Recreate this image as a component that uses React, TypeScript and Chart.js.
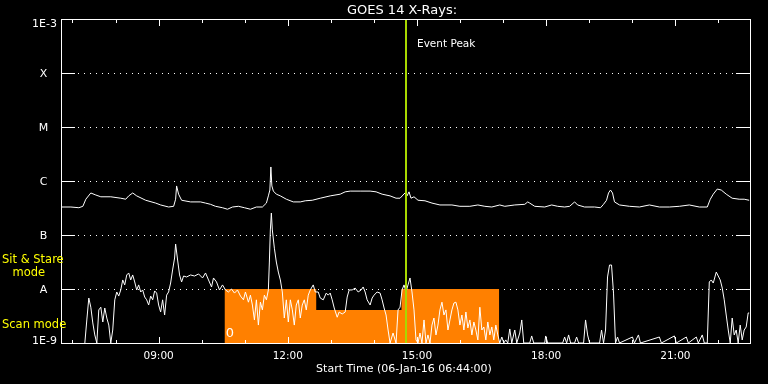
import { useEffect, useRef } from 'react';
import { Chart, registerables } from 'chart.js';

Chart.register(...registerables);

// ---- axis definitions ----
const startHour = 6 + 44 / 60; // 06:44
const spanHours = 16;
const xMinorHours = [7, 8, 9, 10, 11, 12, 13, 14, 15, 16, 17, 18, 19, 20, 21, 22];
const xTickHours = [9, 12, 15, 18, 21];
const xTickLabels = ['09:00', '12:00', '15:00', '18:00', '21:00'];
const yTickValues = [1e-9, 1e-8, 1e-7, 1e-6, 1e-5, 1e-4, 1e-3];
const yTickLabels = ['1E-9', 'A', 'B', 'C', 'M', 'X', '1E-3'];
const yGridValues = [1e-8, 1e-7, 1e-6, 1e-5, 1e-4];

const titleText = 'GOES 14 X-Rays:';
const xTitleText = 'Start Time (06-Jan-16 06:44:00)';
const eventLabel = 'Event Peak';
const eventHour = 14.745;

// ---- instrument mode (orange) ----
const modeTimes = [10.53, 12.66, 12.66, 14.64, 14.64, 16.91];
const modeLevels = [1e-8, 1e-8, 4.1e-9, 4.1e-9, 1e-8, 1e-8];
const modeLabel = '0';

// ---- long channel (upper curve) ----
const upperTimes = [
  6.754, 6.963, 7.148, 7.241, 7.31, 7.426, 7.542, 7.658, 7.889, 8.121,
  8.237, 8.306, 8.399, 8.491, 8.7, 8.932, 9.047, 9.233, 9.349, 9.395,
  9.418, 9.464, 9.534, 9.742, 9.974, 10.09, 10.206, 10.321, 10.484, 10.599,
  10.715, 10.854, 10.993, 11.132, 11.271, 11.41, 11.503, 11.549, 11.584, 11.607,
  11.63, 11.665, 11.734, 11.827, 11.966, 12.128, 12.29, 12.406, 12.568, 12.754,
  12.985, 13.217, 13.333, 13.449, 13.68, 13.912, 14.051, 14.19, 14.375, 14.514,
  14.607, 14.676, 14.722, 14.769, 14.815, 14.861, 14.931, 15.024, 15.186, 15.348,
  15.533, 15.811, 15.997, 16.228, 16.414, 16.576, 16.738, 16.923, 17.039, 17.271,
  17.503, 17.572, 17.618, 17.734, 17.966, 18.128, 18.267, 18.429, 18.545, 18.661,
  18.73, 18.892, 19.124, 19.263, 19.332, 19.402, 19.448, 19.494, 19.541, 19.587,
  19.703, 19.934, 20.166, 20.398, 20.629, 20.861, 21.093, 21.324, 21.556, 21.741,
  21.811, 21.88, 21.973, 22.066, 22.182, 22.319, 22.483, 22.599, 22.714,
];
const upperFlux = [
  3.3e-7, 3.3e-7, 3.2e-7, 3.4e-7, 4.6e-7, 6.0e-7, 5.5e-7, 5.1e-7, 5.1e-7, 4.8e-7,
  4.6e-7, 5.3e-7, 6.0e-7, 5.3e-7, 4.4e-7, 3.9e-7, 3.6e-7, 3.3e-7, 3.4e-7, 4.6e-7,
  8.1e-7, 5.7e-7, 4.4e-7, 4.1e-7, 4.1e-7, 3.9e-7, 3.7e-7, 3.4e-7, 3.2e-7, 3.0e-7,
  3.3e-7, 3.4e-7, 3.2e-7, 3.0e-7, 3.3e-7, 3.3e-7, 3.9e-7, 5.3e-7, 6.8e-7, 1.82e-6,
  8.1e-7, 6.5e-7, 5.7e-7, 5.3e-7, 4.6e-7, 4.1e-7, 4.1e-7, 4.3e-7, 4.4e-7, 4.8e-7,
  5.3e-7, 5.7e-7, 6.3e-7, 6.5e-7, 6.5e-7, 6.5e-7, 6.3e-7, 5.7e-7, 5.3e-7, 4.8e-7,
  4.8e-7, 5.5e-7, 6.0e-7, 5.3e-7, 6.3e-7, 4.8e-7, 5.1e-7, 4.4e-7, 4.3e-7, 3.9e-7,
  3.6e-7, 3.6e-7, 3.4e-7, 3.4e-7, 3.6e-7, 3.4e-7, 3.3e-7, 3.6e-7, 3.4e-7, 3.6e-7,
  3.7e-7, 4.1e-7, 3.9e-7, 3.4e-7, 3.3e-7, 3.6e-7, 3.4e-7, 3.3e-7, 3.4e-7, 4.1e-7,
  3.6e-7, 3.3e-7, 3.3e-7, 3.2e-7, 3.7e-7, 4.4e-7, 6.0e-7, 6.8e-7, 6.0e-7, 4.1e-7,
  3.6e-7, 3.4e-7, 3.3e-7, 3.6e-7, 3.3e-7, 3.3e-7, 3.4e-7, 3.6e-7, 3.3e-7, 3.3e-7,
  4.6e-7, 5.7e-7, 7.1e-7, 6.8e-7, 5.7e-7, 4.8e-7, 4.6e-7, 4.6e-7, 4.4e-7,
];

// ---- short channel (lower curve) ----
const lowerTimes = [
  7.287, 7.333, 7.379, 7.426, 7.472, 7.518, 7.565, 7.611, 7.658, 7.704,
  7.75, 7.797, 7.843, 7.889, 7.935, 7.982, 8.028, 8.074, 8.121, 8.167,
  8.213, 8.26, 8.306, 8.352, 8.398, 8.445, 8.491, 8.537, 8.584, 8.63,
  8.677, 8.723, 8.769, 8.816, 8.862, 8.908, 8.955, 9.001, 9.047, 9.093,
  9.14, 9.186, 9.232, 9.279, 9.325, 9.371, 9.395, 9.441, 9.487, 9.534,
  9.58, 9.65, 9.742, 9.835, 9.928, 10.02, 10.09, 10.159, 10.229, 10.275,
  10.345, 10.414, 10.484,
  10.553, 10.622, 10.692, 10.762, 10.831, 10.901, 10.97, 11.016, 11.086, 11.132,
  11.178, 11.225, 11.271, 11.317, 11.364, 11.41, 11.456, 11.503, 11.549, 11.572,
  11.595, 11.618, 11.641, 11.688, 11.734, 11.78, 11.827, 11.873, 11.919, 11.966,
  12.012, 12.059, 12.105, 12.151, 12.197, 12.244, 12.29,
  12.336, 12.383, 12.429, 12.475, 12.522, 12.591, 12.638, 12.707, 12.754, 12.823,
  12.893, 12.939, 12.985, 13.031, 13.078, 13.147, 13.193, 13.263, 13.333, 13.379,
  13.425, 13.495, 13.564, 13.634, 13.703, 13.75, 13.796, 13.842, 13.912, 13.958,
  14.004, 14.074, 14.143, 14.19, 14.236, 14.282, 14.329, 14.375, 14.444, 14.514,
  14.56, 14.607, 14.653, 14.699,
  14.745, 14.792, 14.838, 14.884, 14.931, 14.977, 15.024, 15.07, 15.116, 15.163,
  15.209, 15.255, 15.302, 15.348, 15.394, 15.441, 15.487, 15.533, 15.58, 15.626,
  15.672, 15.719, 15.765, 15.811, 15.858, 15.904, 15.95, 15.997, 16.043, 16.089,
  16.136, 16.182, 16.228, 16.275, 16.321, 16.367, 16.414, 16.46, 16.506, 16.553,
  16.599, 16.645, 16.692, 16.738, 16.784, 16.831, 16.877, 16.923,
  16.97, 17.016, 17.062, 17.108, 17.155, 17.201, 17.271, 17.317, 17.387, 17.433,
  17.479, 17.618, 17.664, 17.711, 17.966, 17.989, 18.035, 18.383, 18.429, 18.475,
  18.521, 18.568, 18.66, 18.707, 18.753, 18.869, 18.915, 18.962, 19.008, 19.24,
  19.286, 19.332, 19.379, 19.425, 19.471, 19.518, 19.564, 19.61, 19.657, 19.703,
  20.004, 20.05, 20.143, 20.189, 20.629, 20.676, 20.977, 21.023, 21.255, 21.301,
  21.486, 21.533, 21.625, 21.672, 21.741, 21.788, 21.834, 21.88, 21.95, 21.996,
  22.042, 22.089, 22.135, 22.181, 22.228, 22.274, 22.32, 22.367, 22.413, 22.459,
  22.506, 22.552, 22.598, 22.645, 22.691, 22.714,
];
const lowerFlux = [
  1e-9, 2.67e-9, 6.8e-9, 4.6e-9, 2.35e-9, 1.41e-9, 1e-9, 4.1e-9, 4.6e-9, 2.45e-9,
  4.45e-9, 2.9e-9, 2.15e-9, 1e-9, 1.74e-9, 6.3e-9, 8.8e-9, 7.4e-9, 9.6e-9, 1.47e-8,
  1.19e-8, 1.82e-8, 1.98e-8, 1.47e-8, 1.82e-8, 1.35e-8, 9.6e-9, 1.19e-8, 8.8e-9, 9.6e-9,
  7.1e-9, 6.3e-9, 5.05e-9, 7.4e-9, 6.3e-9, 9.2e-9, 8.4e-9, 5.05e-9, 3.75e-9, 6.3e-9,
  3.3e-9, 7.7e-9, 8.8e-9, 1.29e-8, 2.25e-8, 3.75e-8, 6.8e-8, 3.44e-8, 1.82e-8, 1.35e-8,
  1.74e-8, 1.67e-8, 1.82e-8, 1.74e-8, 1.9e-8, 1.6e-8, 1.98e-8, 1.47e-8, 1.09e-8, 1.6e-8,
  1.35e-8, 9.6e-9, 1.19e-8,
  9.6e-9, 8.8e-9, 1.0e-8, 8.4e-9, 9.6e-9, 7.4e-9, 6.3e-9, 8.8e-9, 5.7e-9, 7.7e-9,
  5.05e-9, 2.67e-9, 6.3e-9, 2.15e-9, 5.7e-9, 4.1e-9, 7.7e-9, 6.3e-9, 9.6e-9, 3.16e-8,
  1.24e-7, 2.55e-7, 1.24e-7, 5.7e-8, 3.16e-8, 2.06e-8, 1.47e-8, 8.8e-9, 2.9e-9, 6.3e-9,
  2.45e-9, 6.3e-9, 4.1e-9, 2.15e-9, 5.05e-9, 6.3e-9, 2.9e-9,
  5.05e-9, 6.3e-9, 4.1e-9, 7.7e-9, 9.6e-9, 1.19e-8, 8.8e-9, 8.8e-9, 6.8e-9, 6.3e-9,
  8.4e-9, 7.7e-9, 8.4e-9, 6.3e-9, 4.45e-9, 3.0e-9, 3.75e-9, 3.44e-9, 3.75e-9, 7.1e-9,
  9.6e-9, 9.6e-9, 1.04e-8, 8.8e-9, 9.6e-9, 1.09e-8, 8.8e-9, 6.3e-9, 5.05e-9, 6.8e-9,
  7.7e-9, 8.8e-9, 8.4e-9, 6.3e-9, 4.45e-9, 3.3e-9, 1.74e-9, 1e-9, 1.53e-9, 1e-9,
  4.1e-9, 4.6e-9, 9.6e-9, 1.19e-8,
  8.8e-9, 1.19e-8, 1.6e-8, 8.8e-9, 4.1e-9, 1.14e-9, 1e-9, 1.53e-9, 1e-9, 2.67e-9,
  1e-9, 1.41e-9, 1e-9, 2.15e-9, 2.9e-9, 1.41e-9, 2.15e-9, 4.1e-9, 5.7e-9, 3.3e-9,
  4.1e-9, 1.74e-9, 2.67e-9, 4.1e-9, 5.5e-9, 5.7e-9, 4.1e-9, 2.15e-9, 3.3e-9, 1.74e-9,
  3.75e-9, 1.9e-9, 2.67e-9, 1.41e-9, 2.45e-9, 1.74e-9, 1.14e-9, 4.6e-9, 1.74e-9, 1.98e-9,
  1.14e-9, 2.45e-9, 1.41e-9, 1.98e-9, 1.14e-9, 2.15e-9, 1.41e-9, 1e-9,
  1.29e-9, 1e-9, 1.14e-9, 1e-9, 1.82e-9, 1e-9, 1.74e-9, 1e-9, 1.53e-9, 2.67e-9,
  1e-9, 1e-9, 1.35e-9, 1e-9, 1e-9, 1.35e-9, 1e-9, 1e-9, 1.29e-9, 1e-9,
  1.41e-9, 1e-9, 1e-9, 1.29e-9, 1e-9, 1e-9, 2.67e-9, 1.41e-9, 1e-9, 1e-9,
  1.74e-9, 1e-9, 1.74e-9, 1.67e-8, 2.78e-8, 2.78e-8, 8.4e-9, 1e-9, 1.29e-9, 1e-9,
  1.29e-9, 1e-9, 1.41e-9, 1e-9, 1.29e-9, 1e-9, 1.35e-9, 1e-9, 1.29e-9, 1e-9,
  1.29e-9, 1e-9, 1.41e-9, 1e-9, 1e-9, 1.35e-8, 1.47e-8, 1.29e-8, 2.06e-8, 1.74e-8,
  1.47e-8, 1.04e-8, 6.3e-9, 3.3e-9, 1.74e-9, 1e-9, 2.9e-9, 1.41e-9, 1.74e-9, 1e-9,
  2.15e-9, 1.14e-9, 1.74e-9, 1.98e-9, 3.6e-9, 3.6e-9,
];

const WHITE = '#ffffff';
const ORANGE = '#ff8000';
const GREEN = '#a8d800';
const YELLOW = '#ffff00';
const FONT = '"DejaVu Sans", sans-serif';

const toPoints = (xs: number[], ys: number[]) => xs.map((x, i) => ({ x, y: ys[i] }));

const goesPlugin = {
  id: 'goesDecor',
  beforeDraw(chart: any) {
    const { ctx, width, height } = chart;
    ctx.save();
    ctx.fillStyle = '#000';
    ctx.fillRect(0, 0, width, height);
    ctx.restore();
  },
  beforeDatasetsDraw(chart: any) {
    const { ctx, chartArea, scales } = chart;
    const { left, right } = chartArea;
    const y = scales.y;
    ctx.save();
    ctx.fillStyle = WHITE;
    const L = Math.round(left);
    const R = Math.round(right);
    for (const v of yGridValues) {
      const py = Math.round(y.getPixelForValue(v));
      for (let px = L + 17; px < R - 15; px += 6) ctx.fillRect(px, py, 1, 1);
    }
    ctx.restore();
  },
  afterDatasetsDraw(chart: any) {
    const { ctx, chartArea, scales } = chart;
    const { left, right, top, bottom } = chartArea;
    const x = scales.x;
    const y = scales.y;
    const L = Math.round(left);
    const R = Math.round(right);
    const T = Math.round(top);
    const B = Math.round(bottom);
    ctx.save();
    ctx.fillStyle = WHITE;
    // frame
    ctx.fillRect(L, T, R - L + 1, 1);
    ctx.fillRect(L, B, R - L + 1, 1);
    ctx.fillRect(L, T, 1, B - T + 1);
    ctx.fillRect(R, T, 1, B - T + 1);
    // y ticks (left and right)
    for (const v of yGridValues) {
      const py = Math.round(y.getPixelForValue(v));
      ctx.fillRect(L, py, 14, 1);
      ctx.fillRect(R - 14, py, 14, 1);
    }
    // x ticks (top and bottom)
    for (const h of xMinorHours) {
      const px = Math.round(x.getPixelForValue(h));
      const len = xTickHours.includes(h) ? 7 : 4;
      ctx.fillRect(px, T, 1, len);
      ctx.fillRect(px, B - len + 1, 1, len);
    }

    // texts
    ctx.textBaseline = 'alphabetic';
    ctx.font = `13px ${FONT}`;
    ctx.textAlign = 'center';
    ctx.fillText(titleText, 402, 14);

    ctx.font = `11px ${FONT}`;
    yTickValues.forEach((v, i) => {
      const lab = yTickLabels[i];
      const py = y.getPixelForValue(v);
      let base = py + 4;
      if (i === yTickValues.length - 1) base = T + 8;
      if (i === 0) base = B + 0.5;
      if (lab.length === 1) {
        ctx.textAlign = 'center';
        ctx.fillText(lab, L - 17.5, base);
      } else {
        ctx.textAlign = 'right';
        ctx.fillText(lab, L - 4, base);
      }
    });

    ctx.font = `10.5px ${FONT}`;
    ctx.textAlign = 'center';
    xTickHours.forEach((h, i) => {
      ctx.fillText(xTickLabels[i], x.getPixelForValue(h), 359);
    });
    ctx.font = `11px ${FONT}`;
    ctx.fillText(xTitleText, 404, 371.5);

    ctx.font = `10.5px ${FONT}`;
    ctx.textAlign = 'left';
    ctx.fillText(eventLabel, x.getPixelForValue(eventHour) + 11, 46.7);

    ctx.font = `13px ${FONT}`;
    ctx.textAlign = 'center';
    ctx.fillText(modeLabel, x.getPixelForValue(modeTimes[0]) + 5.5, 337);

    ctx.fillStyle = YELLOW;
    ctx.font = `11.5px ${FONT}`;
    ctx.textAlign = 'left';
    ctx.fillText('Sit & Stare', 2, 263.3);
    ctx.fillText('mode', 12.5, 275.5);
    ctx.fillText('Scan mode', 2, 328.3);
    ctx.restore();
  },
};

export default function App() {
  const ref = useRef<HTMLCanvasElement | null>(null);

  useEffect(() => {
    document.body.style.margin = '0';
    document.body.style.background = '#000';
    if (!ref.current) return;
    const chart = new Chart(ref.current, {
      type: 'line',
      data: {
        datasets: [
          {
            label: 'Event Peak',
            data: [
              { x: eventHour, y: 1e-9 },
              { x: eventHour, y: 1e-3 },
            ],
            borderColor: GREEN,
            borderWidth: 2,
            pointRadius: 0,
            fill: false,
            order: 0,
          },
          {
            label: 'Long',
            data: toPoints(upperTimes, upperFlux),
            borderColor: WHITE,
            borderWidth: 1,
            pointRadius: 0,
            tension: 0,
            fill: false,
            order: 1,
          },
          {
            label: 'Short',
            data: toPoints(lowerTimes, lowerFlux),
            borderColor: WHITE,
            borderWidth: 1,
            pointRadius: 0,
            tension: 0,
            fill: false,
            order: 2,
          },
          {
            label: 'Mode',
            data: toPoints(modeTimes, modeLevels),
            borderColor: ORANGE,
            borderWidth: 0,
            backgroundColor: ORANGE,
            pointRadius: 0,
            tension: 0,
            fill: 'start',
            order: 3,
          },
        ],
      },
      options: {
        animation: false,
        responsive: false,
        devicePixelRatio: 1,
        layout: { padding: { top: 19, right: 18, left: 0, bottom: 0 } },
        plugins: {
          legend: { display: false },
          tooltip: { enabled: false },
          title: { display: false },
        },
        events: [],
        scales: {
          x: {
            type: 'linear',
            min: startHour,
            max: startHour + spanHours,
            ticks: { display: false },
            grid: { display: false },
            border: { display: false },
            afterFit: (s: any) => {
              s.height = 41;
            },
          },
          y: {
            type: 'logarithmic',
            min: 1e-9,
            max: 1e-3,
            ticks: { display: false },
            grid: { display: false },
            border: { display: false },
            afterFit: (s: any) => {
              s.width = 61;
            },
          },
        },
      },
      plugins: [goesPlugin],
    } as any);
    return () => chart.destroy();
  }, []);

  return (
    <div style={{ width: 768, height: 384, background: '#000' }}>
      <canvas ref={ref} width={768} height={384} style={{ display: 'block' }} />
    </div>
  );
}
